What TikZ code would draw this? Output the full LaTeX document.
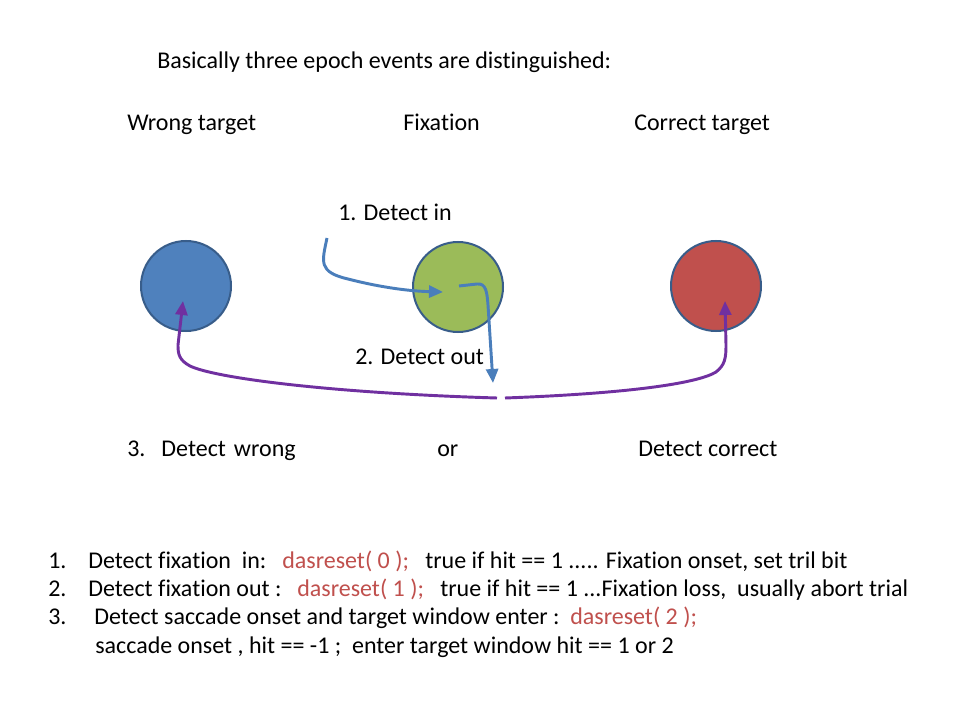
\documentclass[tikz,border=0pt]{standalone}
\usepackage{fontspec}
\setmainfont{Carlito}[Ligatures={NoCommon}]
\usetikzlibrary{arrows.meta}
\definecolor{cblue}{HTML}{4F81BD}
\definecolor{cgreen}{HTML}{9BBB59}
\definecolor{cred}{HTML}{C0504D}
\definecolor{cborder}{HTML}{385D8A}
\definecolor{lblue}{HTML}{4A7EBB}
\definecolor{lpurple}{HTML}{7030A0}
\definecolor{tred}{HTML}{C0504D}
\tikzset{
  target/.style={circle, draw=cborder, line width=1.5pt, minimum size=67.5pt, inner sep=0pt},
  big/.style={anchor=base west, inner sep=0pt, font=\fontsize{18}{21}\selectfont},
  redtext/.style={big, text=tred},
  bluearrow/.style={draw=lblue, line width=2.2pt, -{Triangle[length=10.5pt,width=9pt]}},
  purplearrow/.style={draw=lpurple, line width=2.2pt, -{Triangle[length=10.5pt,width=9pt]}},
}
\begin{document}
\begin{tikzpicture}[x=0.75pt,y=-0.75pt]
\useasboundingbox (0,0) rectangle (960,720);
\fill[white] (0,0) rectangle (960,720);

\node[big] (title) at (157,69) {Basically three epoch events are distinguished:};
\node[big] (lwrong) at (127,131) {Wrong target};
\node[big] (lfix) at (403,131) {Fixation};
\node[big] (lcorr) at (634,131) {Correct target};

\node[target, fill=cblue] (wrong) at (186,286) {};
\node[target, fill=cgreen] (fix) at (458,287) {};
\node[target, fill=cred] (corr) at (716,286) {};

\node[big] (din) at (338,221) {1. Detect in};
\node[big] (dout) at (355,364) {2. Detect out};
\node[big] (dwrong) at (127,456) {3.\hspace{12pt}Detect\hspace{6pt}wrong};
\node[big] (dor) at (437,456) {or};
\node[big] (dcorr) at (638,456) {Detect correct};

% blue arrows
\coordinate (s1) at (327,238);
\coordinate (e1) at (443,292);
\draw[bluearrow] (s1) .. controls (322,262) and (318,272) .. (348,279)
   .. controls (375,286) and (405,291) .. (e1);
\coordinate (s2) at (459,286);
\coordinate (e2) at (493,383);
\draw[bluearrow] (s2) -- (477,284) .. controls (486,283) and (487,292) .. (488,305) -- (e2);

% purple arrows
\coordinate (gl) at (497,398);
\coordinate (gr) at (505,398);
\coordinate (tw) at (183,301);
\coordinate (tc) at (725,301);
\draw[purplearrow] (gl) .. controls (330,393) and (215,378) .. (190,366)
   .. controls (179,360) and (178,354) .. (178,345) -- (tw);
\draw[purplearrow] (gr) .. controls (640,393) and (700,382) .. (716,372)
   .. controls (725,365) and (726,358) .. (726,345) -- (tc);

% bottom list
\node[big] (n1) at (48,568) {1.};
\node[big] (t1a) at (88,568) {Detect fixation\hspace{4pt} in:};
\node[redtext] (t1b) at (282,568) {dasreset( 0 );};
\node[big] (t1c) at (425,568) {true if hit == 1 ..... Fixation onset, set tril bit};
\node[big] (n2) at (48,596) {2.};
\node[big] (t2a) at (88,596) {Detect fixation out :};
\node[redtext] (t2b) at (297,596) {dasreset( 1 );};
\node[big] (t2c) at (440,596) {true if hit == 1 ...Fixation loss,\hspace{4pt} usually abort trial};
\node[big] (n3) at (48,624) {3.};
\node[big] (t3a) at (94,624) {Detect saccade onset and target window enter :};
\node[redtext] (t3b) at (570,624) {dasreset( 2 );};
\node[big] (t4) at (95,653) {saccade onset , hit == -1 ;\hspace{4pt} enter target window hit == 1 or 2};
\end{tikzpicture}
\end{document}
